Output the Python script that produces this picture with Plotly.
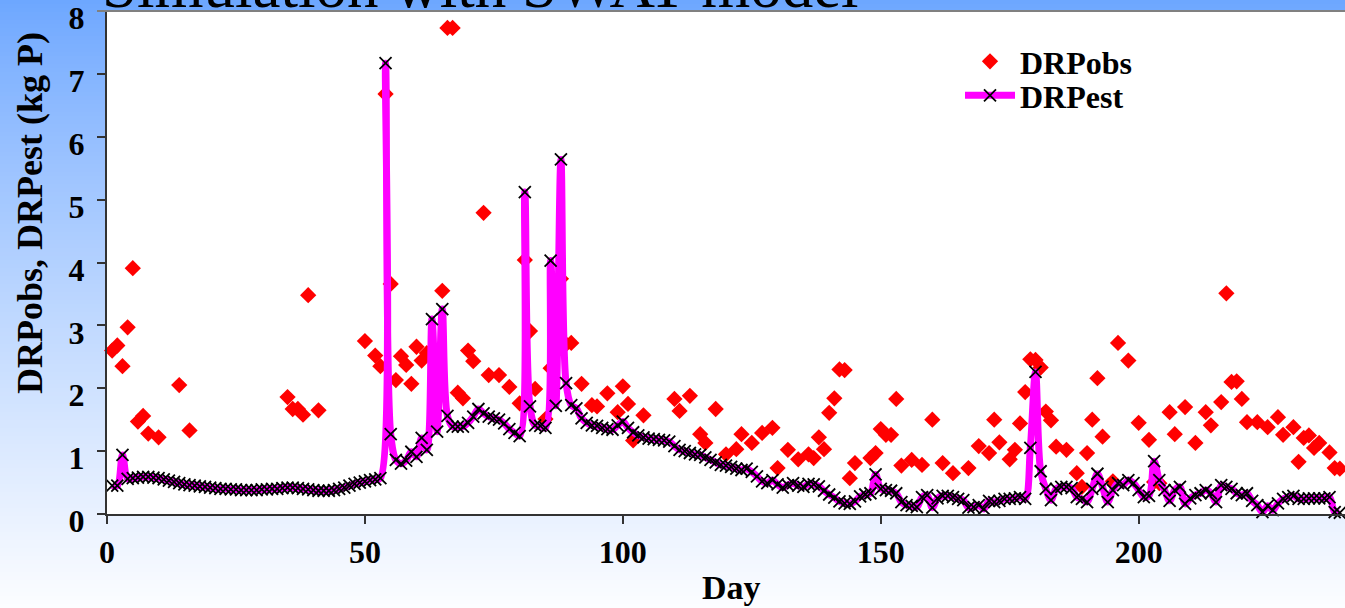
import plotly.graph_objects as go

# ---------------- data ----------------
est_days = list(range(1, 240))
drp_est = [
    0.45, 0.45, 0.94, 0.56, 0.57, 0.58, 0.59, 0.59, 0.58, 0.57,   # 1-10
    0.55, 0.53, 0.51, 0.49, 0.47, 0.46, 0.45, 0.44, 0.43, 0.42,   # 11-20
    0.41, 0.40, 0.40, 0.39, 0.39, 0.38, 0.38, 0.38, 0.38, 0.39,   # 21-30
    0.39, 0.40, 0.40, 0.41, 0.42, 0.42, 0.41, 0.40, 0.39, 0.38,   # 31-40
    0.37, 0.37, 0.37, 0.38, 0.40, 0.42, 0.45, 0.48, 0.50, 0.52,   # 41-50
    0.54, 0.55, 0.57, 7.17, 1.27, 0.86, 0.80, 0.85, 0.99, 0.91,   # 51-60
    1.21, 1.02, 3.10, 1.31, 3.26, 1.56, 1.39, 1.39, 1.39, 1.45,   # 61-70
    1.55, 1.67, 1.60, 1.55, 1.52, 1.50, 1.44, 1.35, 1.29, 1.24,   # 71-80
    5.12, 1.71, 1.41, 1.40, 1.37, 4.03, 1.72, 5.64, 2.08, 1.73,   # 81-90
    1.68, 1.52, 1.45, 1.41, 1.40, 1.37, 1.35, 1.34, 1.41, 1.47,   # 91-100
    1.37, 1.30, 1.25, 1.22, 1.20, 1.19, 1.18, 1.17, 1.15, 1.08,   # 101-110
    1.02, 1.00, 0.97, 0.95, 0.94, 0.90, 0.86, 0.82, 0.78, 0.77,   # 111-120
    0.75, 0.72, 0.70, 0.72, 0.67, 0.60, 0.52, 0.49, 0.54, 0.47,   # 121-130
    0.42, 0.46, 0.49, 0.45, 0.43, 0.48, 0.47, 0.44, 0.37, 0.31,   # 131-140
    0.26, 0.20, 0.17, 0.16, 0.20, 0.28, 0.31, 0.33, 0.63, 0.40,   # 141-150
    0.38, 0.37, 0.33, 0.19, 0.14, 0.13, 0.11, 0.27, 0.30, 0.10,   # 151-160
    0.25, 0.29, 0.29, 0.27, 0.24, 0.22, 0.10, 0.11, 0.14, 0.08,   # 161-170
    0.21, 0.19, 0.21, 0.24, 0.24, 0.25, 0.27, 0.24, 1.05, 2.26,   # 171-180
    0.68, 0.40, 0.22, 0.40, 0.43, 0.43, 0.41, 0.27, 0.24, 0.19,   # 181-190
    0.40, 0.64, 0.43, 0.19, 0.38, 0.49, 0.46, 0.54, 0.49, 0.38,   # 191-200
    0.27, 0.29, 0.84, 0.54, 0.38, 0.21, 0.38, 0.43, 0.16, 0.25,   # 201-210
    0.30, 0.33, 0.38, 0.33, 0.19, 0.46, 0.43, 0.40, 0.33, 0.30,   # 211-220
    0.33, 0.21, 0.14, 0.03, 0.13, 0.06, 0.17, 0.24, 0.27, 0.29,   # 221-230
    0.24, 0.24, 0.25, 0.25, 0.25, 0.25, 0.27, 0.03, 0.02,         # 231-239
]

obs_days = [
    1, 2, 3, 4, 5, 6, 7, 8, 10, 14, 16,
    35, 36, 37, 38, 39, 41,
    50, 52, 53, 54, 55, 56, 57, 58, 59, 60, 61, 62, 63, 64, 65, 66, 67,
    68, 69, 70, 71, 73, 74, 76, 78, 80, 81, 82, 83, 85, 86, 87, 88, 89,
    90, 92, 94, 95, 97, 99, 100, 101, 102, 104,
    110, 111, 113, 115, 116, 118, 120, 122, 123, 125, 127, 129, 130,
    132, 134, 136, 137, 138, 139, 140, 141, 142, 143, 144, 145,
    148, 149, 150, 151, 152, 153, 154, 156, 158, 160, 162, 164, 167,
    169, 171, 172, 173, 175, 176, 177, 178, 179, 180, 181, 182, 183,
    184, 186, 188, 189, 190, 191, 192, 193, 195, 196, 198, 200, 202,
    203, 204, 206, 207, 209, 211, 213, 214, 216, 217, 218, 219, 220,
    221, 223, 225, 227, 228, 230, 231, 232, 233, 234, 235, 237, 238, 239,
]
drp_obs = [
    2.60, 2.68, 2.35, 2.97, 3.91, 1.47, 1.56, 1.28, 1.22, 2.05, 1.33,
    1.86, 1.67, 1.67, 1.58, 3.48, 1.65,
    2.75, 2.52, 2.35, 6.68, 3.66, 2.13, 2.51, 2.37, 2.07, 2.66, 2.44, 2.56, 2.50, 2.48, 3.55, 7.73, 7.73,
    1.93, 1.84, 2.60, 2.43, 4.79, 2.21, 2.21, 2.02, 1.76, 4.04, 2.91, 1.99, 1.51, 2.32, 2.96, 3.74, 2.70,
    2.72, 2.07, 1.73, 1.71, 1.92, 1.62, 2.03, 1.75, 1.17, 1.57,
    1.83, 1.64, 1.88, 1.27, 1.13, 1.67, 0.95, 1.03, 1.27, 1.13, 1.29, 1.37, 0.73,
    1.02, 0.87, 0.95, 0.89, 1.22, 1.03, 1.61, 1.84, 2.30, 2.29, 0.57, 0.81,
    0.89, 0.97, 1.35, 1.26, 1.26, 1.83, 0.77, 0.86, 0.78, 1.50, 0.81, 0.65, 0.73,
    1.08, 0.97, 1.50, 1.14, 0.87, 1.02, 1.44, 1.94, 2.46, 2.45, 2.33, 1.63, 1.49,
    1.07, 1.02, 0.65, 0.43, 0.97, 1.50, 2.16, 1.23, 0.52, 2.72, 2.44, 1.45, 1.18,
    0.51, 0.49, 1.62, 1.27, 1.70, 1.13, 1.62, 1.41, 1.78, 3.51, 2.10, 2.11, 1.83,
    1.46, 1.46, 1.38, 1.54, 1.26, 1.38, 0.83, 1.21, 1.25, 1.05, 1.13, 0.98, 0.73, 0.72,
]

x_ticks = [0, 50, 100, 150, 200]
y_ticks = [0, 1, 2, 3, 4, 5, 6, 7, 8]

title_text = "Simulation with SWAT model"
x_title = "Day"
y_title = "DRPobs, DRPest (kg P)"

# ---------------- layout geometry ----------------
W, H = 1345, 608
ML, MR, MT, MB = 107, 0, 11, 94
PW, PH = W - ML - MR, H - MT - MB


def pxx(px):
    return (px - ML) / PW


def pxy(py):
    return (H - MB - py) / PH


SERIF = "Liberation Serif"

fig = go.Figure()

fig.add_trace(go.Scatter(
    x=obs_days, y=drp_obs, mode="markers", name="DRPobs", legend="legend",
    marker=dict(symbol="diamond", size=12.5, color="#FF0000", line=dict(width=0)),
    cliponaxis=False,
))
fig.add_trace(go.Scatter(
    x=est_days, y=drp_est, mode="lines+markers", name="DRPest", legend="legend2",
    line=dict(color="#FF00FF", width=7, shape="spline", smoothing=1),
    marker=dict(symbol="x-thin", size=12, color="black",
                line=dict(width=1.8, color="black")),
    cliponaxis=False,
))

# background gradient (slide background)
shapes = []
top = (108, 166, 255)
bot = (252, 253, 255)
step = 4
for yy in range(0, H, step):
    t = (yy + step / 2) / H
    t = t ** 0.85
    c = tuple(int(round(top[k] + (bot[k] - top[k]) * t)) for k in range(3))
    shapes.append(dict(type="rect", xref="paper", yref="paper", layer="below",
                       x0=pxx(0), x1=pxx(W), y0=pxy(yy + step + 0.5), y1=pxy(yy),
                       fillcolor="rgb(%d,%d,%d)" % c, line=dict(width=0)))
# white plot area
shapes.append(dict(type="rect", xref="paper", yref="paper", layer="below",
                   x0=0, x1=1, y0=0, y1=1, fillcolor="white", line=dict(width=0)))
# grey top border of chart area
shapes.append(dict(type="line", xref="paper", yref="paper", layer="above",
                   x0=pxx(97), x1=1, y0=1.0, y1=1.0,
                   line=dict(color="#808080", width=2)))

annotations = [
    dict(text=title_text, xref="paper", yref="paper", x=pxx(100), y=pxy(23),
         xanchor="left", yanchor="bottom", showarrow=False,
         font=dict(family=SERIF, size=63, color="black")),
    dict(text=y_title, xref="paper", yref="paper", x=pxx(30), y=pxy(213),
         xanchor="center", yanchor="middle", showarrow=False, textangle=-90,
         font=dict(family=SERIF, size=36, color="black", weight="bold")),
    dict(text=x_title, xref="paper", yref="paper", x=pxx(731), y=pxy(588),
         xanchor="center", yanchor="middle", showarrow=False,
         font=dict(family=SERIF, size=34, color="black", weight="bold")),
]

tickfont = dict(family=SERIF, size=32, color="black", weight="bold")
legfont = dict(family=SERIF, size=32, color="black", weight="bold")

fig.update_layout(
    width=W, height=H,
    margin=dict(l=ML, r=MR, t=MT, b=MB, pad=0),
    paper_bgcolor="white", plot_bgcolor="rgba(0,0,0,0)",
    shapes=shapes, annotations=annotations,
    showlegend=True,
    legend=dict(x=pxx(960), y=pxy(34), xanchor="left", yanchor="top",
                bgcolor="rgba(0,0,0,0)", borderwidth=0, itemwidth=50,
                font=legfont),
    legend2=dict(x=pxx(960), y=pxy(68), xanchor="left", yanchor="top",
                 bgcolor="rgba(0,0,0,0)", borderwidth=0, itemwidth=50,
                 font=legfont),
    xaxis=dict(range=[0, 240], tickvals=x_ticks, showgrid=False, zeroline=False,
               showline=True, linecolor="#333333", linewidth=2,
               ticks="outside", ticklen=8, tickwidth=2, tickcolor="#333333",
               tickfont=tickfont, ticklabelstandoff=1, fixedrange=True),
    yaxis=dict(range=[0, 8], tickvals=y_ticks, showgrid=False, zeroline=False,
               showline=True, linecolor="#333333", linewidth=2,
               ticks="outside", ticklen=8, tickwidth=2, tickcolor="#333333",
               tickfont=tickfont, ticklabelstandoff=6, ticklabelshift=7,
               ticklabeloverflow="allow", fixedrange=True),
)

fig.write_html("out.html")
